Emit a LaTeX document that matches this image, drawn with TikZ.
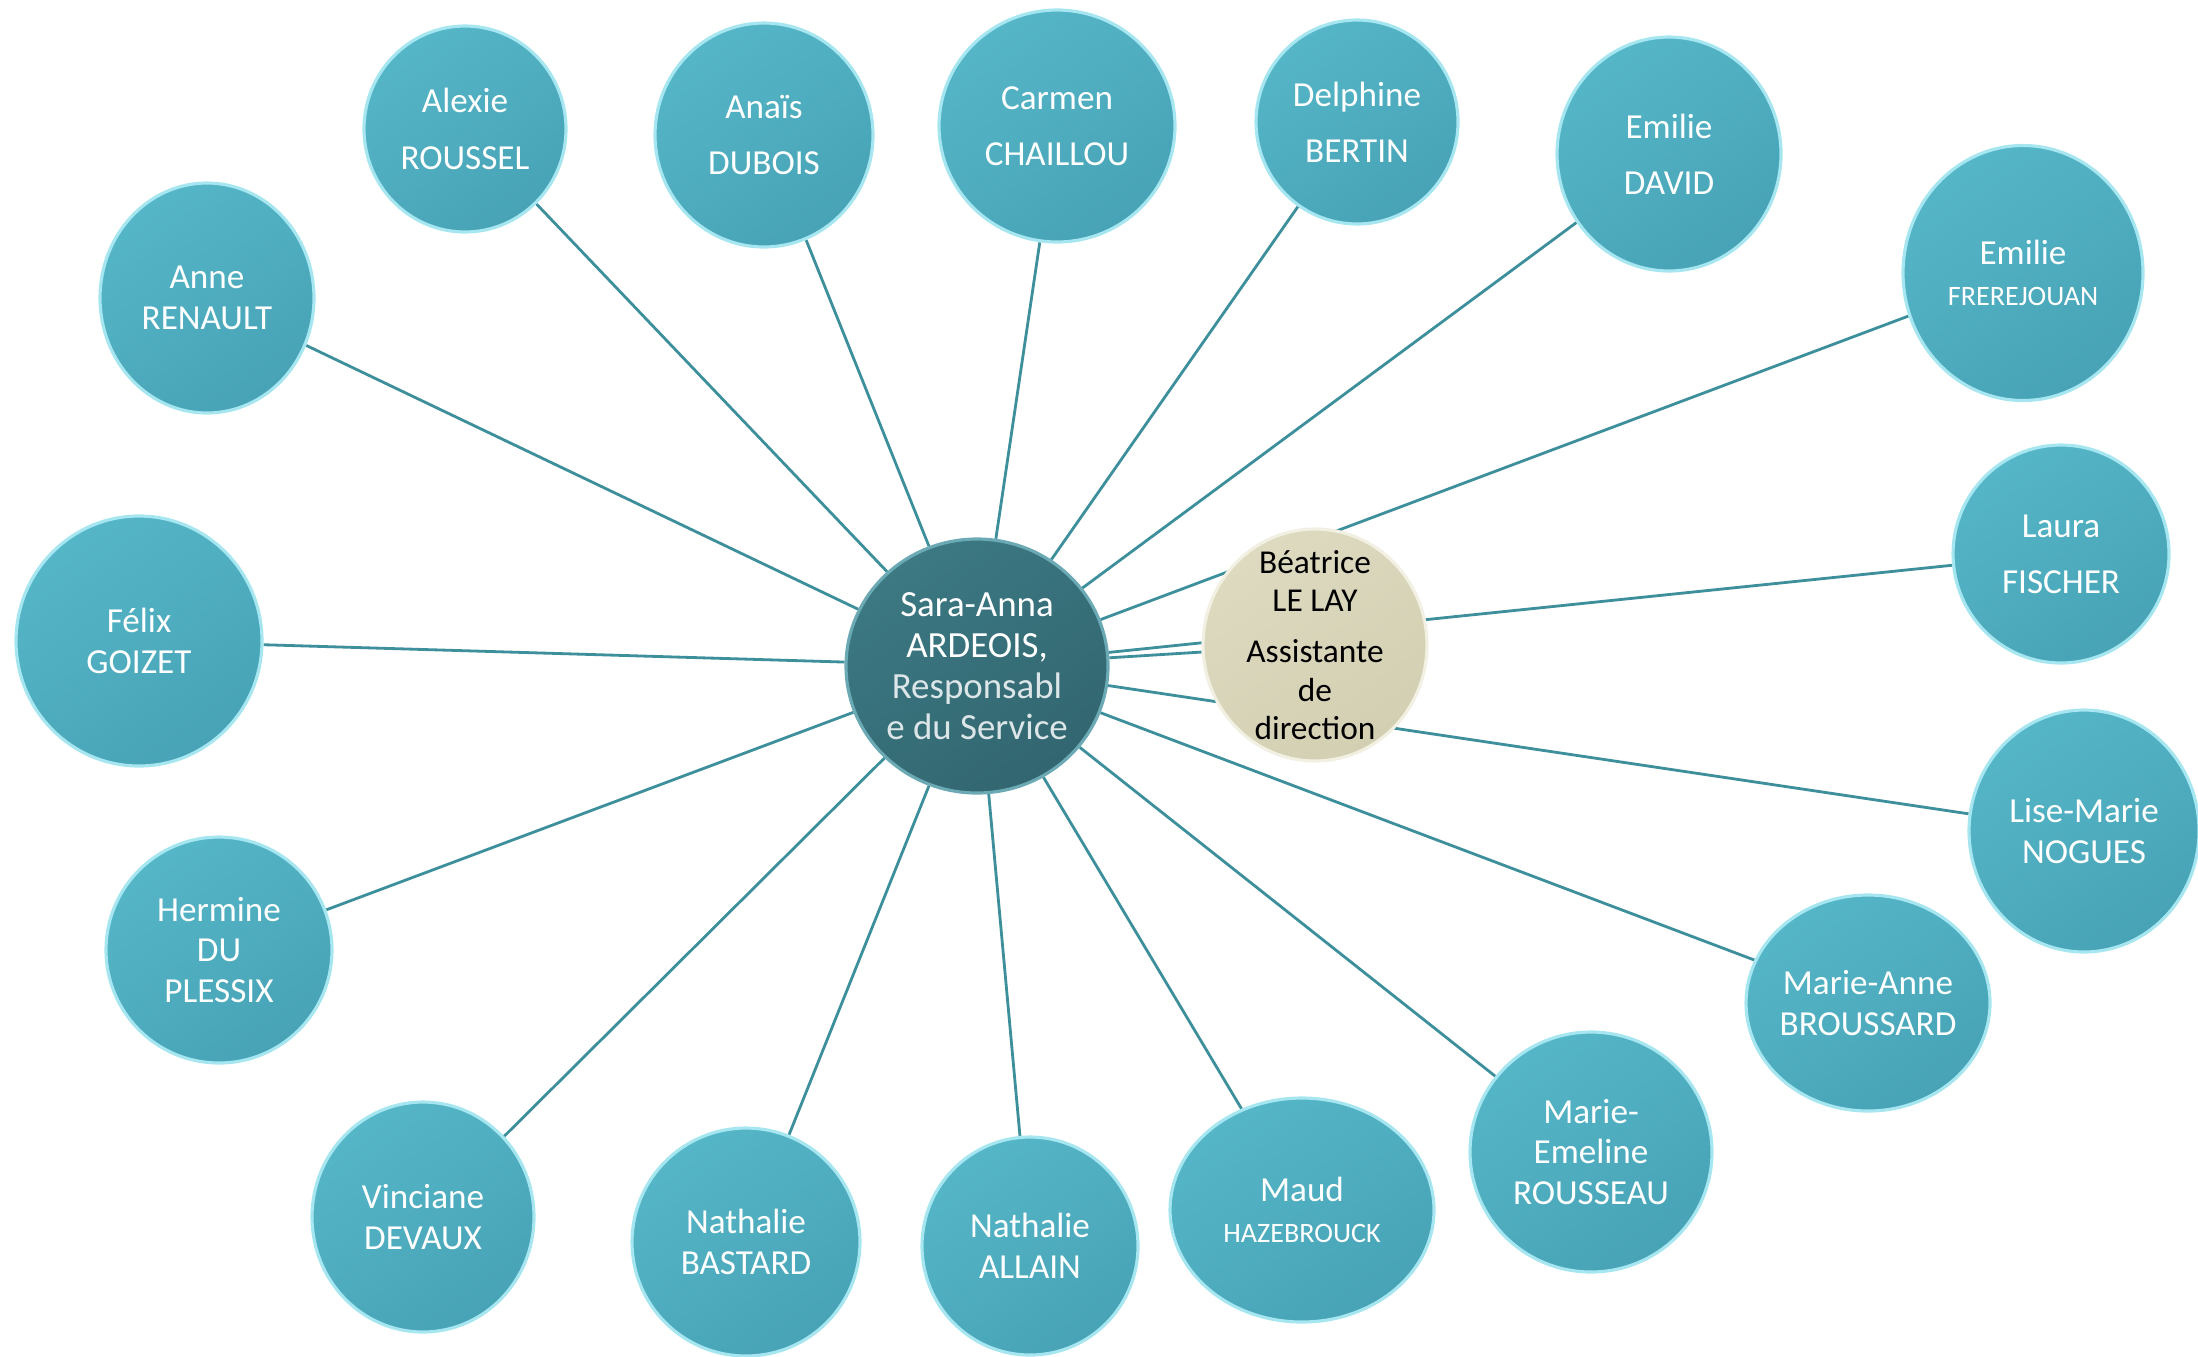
\documentclass[tikz,border=0pt]{standalone}
\usepackage{fontspec}
\setmainfont{Carlito}
\usepackage{tikz}
\usetikzlibrary{shapes.geometric}
\usetikzlibrary{backgrounds}
\usepackage{xcolor}
\definecolor{bulleclair}{HTML}{55B6C8}
\definecolor{bullefonce}{HTML}{47A3B5}
\definecolor{bullebord}{HTML}{A6E6F0}
\definecolor{chefclair}{HTML}{3C7983}
\definecolor{cheffonce}{HTML}{326670}
\definecolor{chefbord}{HTML}{6BAAB4}
\definecolor{chefgris}{HTML}{DCE6E8}
\definecolor{assistclair}{HTML}{DDDAC0}
\definecolor{assistfonce}{HTML}{D2CFB2}
\definecolor{assistbord}{HTML}{F2F0E2}
\definecolor{trait}{HTML}{3D8F9B}
\tikzstyle{bulle}=[ellipse,top color=bulleclair,bottom color=bullefonce,shading angle=35,draw=bullebord,line width=0.9pt,text=white,align=center,inner sep=-1.5mm,font=\fontsize{10}{11.6}\selectfont]
\tikzstyle{chef}=[bulle,top color=chefclair,bottom color=cheffonce,shading angle=35,draw=chefbord,font=\fontsize{10.5}{11.6}\selectfont]
\tikzstyle{assist}=[bulle,top color=assistclair,bottom color=assistfonce,shading angle=35,draw=assistbord,text=black,inner sep=-4mm,font=\fontsize{9.5}{10.9}\selectfont]
\tikzstyle{lien}=[trait,line width=0.8pt]
\newcommand{\petit}[1]{{\fontsize{8}{9.6}\selectfont #1}}

\begin{document}
\begin{tikzpicture}
    \useasboundingbox (0,0) rectangle (21.98,-13.56);

    \node[chef,minimum width=2.62cm,minimum height=2.54cm] (sara) at (9.77,-6.66) {Sara-Anna\\ARDEOIS,\\\textcolor{chefgris}{Responsabl}\\\textcolor{chefgris}{e du Service}};
    \node[assist,minimum width=2.24cm,minimum height=2.32cm] (beatrice) at (13.15,-6.45) {Béatrice\\LE LAY\\[3.6pt]Assistante\\de\\direction};

    % en haut
    \node[bulle,minimum width=2.14cm,minimum height=2.30cm] (anne) at (2.07,-2.98) {Anne\\RENAULT};
    \node[bulle,minimum width=2.02cm,minimum height=2.06cm] (alexie) at (4.65,-1.29) {Alexie\\[4.4pt]ROUSSEL};
    \node[bulle,minimum width=2.18cm,minimum height=2.24cm] (anais) at (7.64,-1.35) {Anaïs\\[4.4pt]DUBOIS};
    \node[bulle,minimum width=2.36cm,minimum height=2.32cm] (carmen) at (10.57,-1.26) {Carmen\\[4.4pt]CHAILLOU};
    \node[bulle,minimum width=2.02cm,minimum height=2.04cm] (delphine) at (13.57,-1.22) {Delphine\\[4.4pt]BERTIN};
    \node[bulle,minimum width=2.24cm,minimum height=2.34cm] (emilied) at (16.69,-1.54) {Emilie\\[4.4pt]DAVID};
    \node[bulle,minimum width=2.40cm,minimum height=2.55cm] (emilief) at (20.23,-2.73) {Emilie\\\petit{FREREJOUAN}};

    % a droite
    \node[bulle,minimum width=2.16cm,minimum height=2.18cm] (laura) at (20.61,-5.54) {Laura\\[4.4pt]FISCHER};
    \node[bulle,minimum width=2.30cm,minimum height=2.42cm] (lisemarie) at (20.84,-8.31) {Lise-Marie\\NOGUES};
    \node[bulle,minimum width=2.44cm,minimum height=2.16cm] (marieanne) at (18.68,-10.03) {Marie-Anne\\BROUSSARD};

    % en bas
    \node[bulle,minimum width=2.42cm,minimum height=2.40cm] (marieemeline) at (15.91,-11.52) {Marie-\\Emeline\\ROUSSEAU};
    \node[bulle,minimum width=2.64cm,minimum height=2.24cm] (maud) at (13.02,-12.10) {Maud\\\petit{HAZEBROUCK}};
    \node[bulle,minimum width=2.16cm,minimum height=2.18cm] (allain) at (10.30,-12.46) {Nathalie\\ALLAIN};
    \node[bulle,minimum width=2.28cm,minimum height=2.28cm] (bastard) at (7.46,-12.42) {Nathalie\\BASTARD};
    \node[bulle,minimum width=2.22cm,minimum height=2.30cm] (vinciane) at (4.23,-12.17) {Vinciane\\DEVAUX};

    % a gauche
    \node[bulle,minimum width=2.26cm,minimum height=2.26cm] (hermine) at (2.19,-9.50) {Hermine\\DU\\PLESSIX};
    \node[bulle,minimum width=2.46cm,minimum height=2.50cm] (felix) at (1.39,-6.41) {Félix\\GOIZET};

    \begin{scope}[on background layer]
    \draw[lien] (sara) -- (beatrice);
    \draw[lien] (sara) -- (anne);
    \draw[lien] (sara) -- (alexie);
    \draw[lien] (sara) -- (anais);
    \draw[lien] (sara) -- (carmen);
    \draw[lien] (sara) -- (delphine);
    \draw[lien] (sara) -- (emilied);
    \draw[lien] (sara) -- (emilief);
    \draw[lien] (sara) -- (laura);
    \draw[lien] (sara) -- (lisemarie);
    \draw[lien] (sara) -- (marieanne);
    \draw[lien] (sara) -- (marieemeline);
    \draw[lien] (sara) -- (maud);
    \draw[lien] (sara) -- (allain);
    \draw[lien] (sara) -- (bastard);
    \draw[lien] (sara) -- (vinciane);
    \draw[lien] (sara) -- (hermine);
    \draw[lien] (sara) -- (felix);
    \end{scope}
\end{tikzpicture}
\end{document}
